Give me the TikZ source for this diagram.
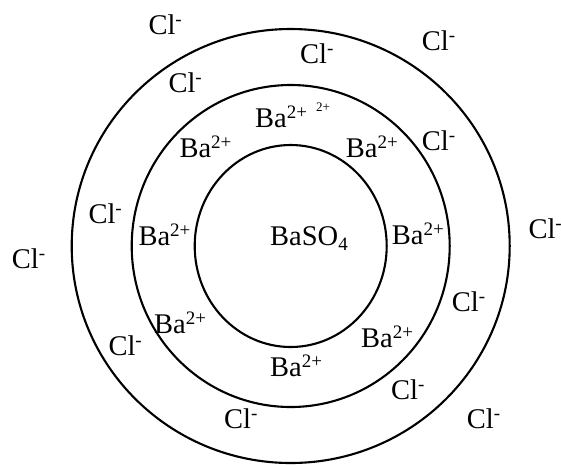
\documentclass[tikz,border=0pt]{standalone}
\usepackage{fontspec}
\setmainfont{Liberation Serif}
\newcommand\upx[1]{\raisebox{9pt}{\fontsize{19}{19}\selectfont #1}}
\newcommand\dnx[1]{\raisebox{-5pt}{\fontsize{19}{19}\selectfont #1}}
\newcommand\tinyup[1]{\raisebox{16pt}{\fontsize{13}{13}\selectfont #1}}
\begin{document}
\begin{tikzpicture}[x=1pt,y=-1pt,
  lbl/.style={anchor=base west, inner sep=0pt, font=\fontsize{28.5}{34}\selectfont},
  ring/.style={draw=black, line width=2.1pt}]
\useasboundingbox (0,0) rectangle (561,464);
\coordinate (c) at (290.7,246);
% rings
\draw[ring] (c) ellipse [x radius=219pt, y radius=217pt];
\draw[ring] (c) ellipse [x radius=159pt, y radius=161pt];
\draw[ring] (c) ellipse [x radius=96pt, y radius=101pt];
% core
\node[lbl] (core) at (270,245) {BaSO\dnx{4}};
% barium ions
\node[lbl] (ba1) at (255,127.5) {Ba\upx{2+}\hspace{9pt}\tinyup{2+}};
\node[lbl] (ba2) at (179.3,157) {Ba\upx{2+}};
\node[lbl] (ba3) at (345.7,157) {Ba\upx{2+}};
\node[lbl] (ba4) at (138.3,245) {Ba\upx{2+}};
\node[lbl] (ba5) at (391.7,244.3) {Ba\upx{2+}};
\node[lbl] (ba6) at (154,333.3) {Ba\upx{2+}};
\node[lbl] (ba7) at (361,347.7) {Ba\upx{2+}};
\node[lbl] (ba8) at (270,376.5) {Ba\upx{2+}};
% chloride ions
\node[lbl] (cl1) at (148.3,34.3) {Cl\upx{-}};
\node[lbl] (cl2) at (168.3,92.7) {Cl\upx{-}};
\node[lbl] (cl3) at (300,63.3) {Cl\upx{-}};
\node[lbl] (cl4) at (421.7,50) {Cl\upx{-}};
\node[lbl] (cl5) at (421.7,150) {Cl\upx{-}};
\node[lbl] (cl6) at (88.3,223.3) {Cl\upx{-}};
\node[lbl] (cl7) at (11.7,268.3) {Cl\upx{-}};
\node[lbl] (cl8) at (528.3,238.3) {Cl\upx{-}};
\node[lbl] (cl9) at (451.7,311.7) {Cl\upx{-}};
\node[lbl] (cl10) at (108.3,355) {Cl\upx{-}};
\node[lbl] (cl11) at (224,428.3) {Cl\upx{-}};
\node[lbl] (cl12) at (391,399) {Cl\upx{-}};
\node[lbl] (cl13) at (466.7,428.3) {Cl\upx{-}};
\end{tikzpicture}
\end{document}
